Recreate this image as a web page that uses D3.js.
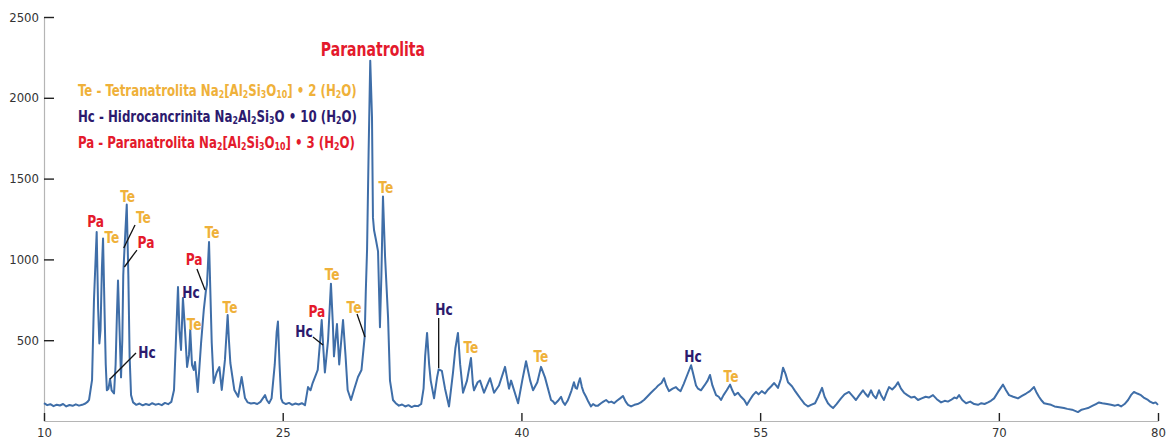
<!DOCTYPE html>
<html>
<head>
<meta charset="utf-8">
<script src="https://cdn.jsdelivr.net/npm/d3@7"></script>
<style>
  body { margin: 0; background: #fff; }
  svg { display: block; }
  text { font-family: 'DejaVu Sans Condensed', sans-serif; }
</style>
</head>
<body>
<svg id="xrd" width="1173" height="445"></svg>
<script>
// XRD scan, [2theta, counts]
const pattern = [
  [10.0,110],[10.2,98],[10.4,104],[10.6,92],[10.8,101],[11.0,96],[11.2,105],[11.4,90],[11.6,99],[11.8,94],
  [12.0,103],[12.2,95],[12.4,100],[12.6,108],[12.75,120],[12.83,130],[13.02,254],[13.14,749],[13.31,1170],
  [13.40,700],[13.48,480],[13.55,560],[13.64,950],[13.71,1130],[13.80,700],[13.88,350],[13.95,190],
  [14.05,200],[14.15,260],[14.25,190],[14.40,170],[14.50,350],[14.58,650],[14.65,870],[14.75,560],
  [14.84,270],[14.92,500],[14.98,900],[15.00,950],[15.06,1070],[15.20,1340],[15.30,900],[15.38,400],
  [15.47,160],[15.6,115],[15.8,100],[16.0,108],[16.2,97],[16.4,105],[16.6,99],[16.8,110],[17.0,101],
  [17.2,106],[17.4,98],[17.6,112],[17.8,104],[18.0,118],[18.17,192],[18.29,500],[18.42,829],[18.51,563],
  [18.61,440],[18.73,761],[18.86,563],[18.99,334],[19.11,409],[19.19,563],[19.30,347],[19.41,316],
  [19.49,365],[19.66,180],[19.87,483],[20.04,687],[20.18,811],[20.24,842],[20.37,1108],[20.54,483],
  [20.66,235],[20.85,300],[21.02,334],[21.17,192],[21.37,378],[21.54,656],[21.62,501],[21.71,359],
  [21.96,192],[22.2,150],[22.42,272],[22.63,142],[22.8,115],[23.0,108],[23.2,112],[23.4,105],[23.6,118],
  [23.89,160],[24.0,130],[24.14,110],[24.3,140],[24.5,350],[24.62,550],[24.70,615],[24.8,350],[24.9,140],
  [25.0,115],[25.2,105],[25.4,112],[25.6,100],[25.8,108],[26.0,102],[26.2,110],[26.4,98],[26.59,210],
  [26.75,190],[26.88,235],[27.10,290],[27.20,316],[27.34,483],[27.45,625],[27.55,450],[27.65,300],
  [27.85,500],[28.03,850],[28.15,600],[28.22,400],[28.41,600],[28.55,350],[28.79,625],[28.95,400],
  [29.08,192],[29.29,130],[29.5,200],[29.73,272],[29.95,316],[30.15,520],[30.22,800],[30.30,1060],
  [30.40,1680],[30.50,2230],[30.61,1880],[30.67,1260],[30.74,1180],[30.86,1120],[30.99,1050],[31.11,580],
  [31.20,900],[31.30,1390],[31.43,1020],[31.62,640],[31.74,250],[31.93,130],[32.1,110],[32.3,95],
  [32.5,102],[32.7,90],[32.9,98],[33.1,86],[33.3,95],[33.5,92],[33.7,105],[33.85,200],[33.95,400],
  [34.07,545],[34.2,350],[34.3,250],[34.51,140],[34.7,270],[34.8,320],[35.0,310],[35.2,200],[35.45,90],
  [35.7,300],[35.85,450],[36.01,545],[36.15,350],[36.33,175],[36.58,250],[36.83,390],[36.95,230],
  [37.02,190],[37.25,240],[37.40,250],[37.65,175],[38.03,265],[38.28,175],[38.59,220],[38.97,335],
  [39.22,200],[39.35,250],[39.79,110],[40.05,250],[40.29,370],[40.55,250],[40.73,190],[41.0,240],
  [41.23,335],[41.48,270],[41.86,130],[42.0,120],[42.1,105],[42.3,125],[42.49,150],[42.6,120],[42.74,100],
  [42.9,125],[43.0,150],[43.15,190],[43.30,240],[43.4,205],[43.49,200],[43.6,240],[43.68,265],[43.8,210],
  [43.9,180],[44.06,150],[44.2,120],[44.37,90],[44.5,105],[44.65,95],[44.81,95],[45.0,110],[45.15,120],
  [45.32,130],[45.5,115],[45.65,120],[45.82,110],[46.0,125],[46.2,140],[46.38,155],[46.55,120],[46.7,100],
  [46.89,90],[47.1,100],[47.3,105],[47.5,115],[47.70,130],[47.9,150],[48.14,175],[48.3,190],[48.46,205],
  [48.6,220],[48.8,235],[48.96,265],[49.1,220],[49.27,185],[49.5,200],[49.71,210],[49.85,195],[50.0,185],
  [50.2,230],[50.4,280],[50.66,345],[50.8,290],[50.97,220],[51.1,200],[51.28,190],[51.5,220],[51.7,250],
  [51.85,285],[52.0,220],[52.23,160],[52.4,150],[52.54,130],[52.7,160],[52.9,190],[53.11,225],[53.25,190],
  [53.4,160],[53.6,175],[53.8,150],[54.0,130],[54.17,100],[54.35,130],[54.55,160],[54.74,180],[54.9,165],
  [55.1,185],[55.3,170],[55.5,195],[55.7,215],[55.87,235],[56.0,220],[56.12,205],[56.3,260],[56.44,330],
  [56.6,290],[56.75,240],[57.0,215],[57.2,185],[57.38,160],[57.6,130],[57.8,105],[58.01,90],[58.2,100],
  [58.45,110],[58.65,150],[58.89,205],[59.05,150],[59.26,110],[59.4,95],[59.58,80],[59.8,105],[60.08,140],
  [60.3,165],[60.58,180],[60.8,155],[61.02,130],[61.2,155],[61.46,190],[61.6,170],[61.78,150],[61.97,190],
  [62.1,160],[62.28,140],[62.47,190],[62.6,160],[62.78,130],[62.95,175],[63.10,210],[63.3,195],[63.5,215],
  [63.66,240],[63.85,200],[64.04,175],[64.25,160],[64.5,145],[64.7,150],[64.92,130],[65.15,140],[65.4,150],
  [65.6,145],[65.86,160],[66.1,135],[66.37,115],[66.6,125],[66.8,120],[66.99,130],[67.2,145],[67.35,140],
  [67.50,160],[67.7,130],[67.94,110],[68.2,120],[68.45,105],[68.69,100],[68.9,110],[69.1,105],[69.32,115],
  [69.5,125],[69.70,140],[69.95,180],[70.26,225],[70.45,190],[70.64,160],[70.9,150],[71.20,140],[71.45,155],
  [71.71,170],[71.95,185],[72.21,210],[72.35,180],[72.52,150],[72.7,125],[72.84,110],[73.05,105],[73.28,100],
  [73.5,90],[73.8,85],[74.09,80],[74.3,75],[74.6,70],[74.97,55],[75.2,70],[75.4,75],[75.60,80],[75.9,95],
  [76.1,105],[76.29,115],[76.5,110],[76.8,105],[77.05,100],[77.3,95],[77.5,100],[77.68,90],[77.9,105],
  [78.12,130],[78.3,160],[78.49,180],[78.7,170],[78.93,160],[79.1,145],[79.37,130],[79.5,120],[79.69,110],
  [79.85,115],[80.0,100]
];

const xTicks = [10, 25, 40, 55, 70, 80];
const yTicks = [500, 1000, 1500, 2000, 2500];

const phaseColor = { Te: '#efb13a', Hc: '#2c1a6e', Pa: '#e41a2c' };

// legend rows: [text, subscript?]
const legendRows = [
  { phase: 'Te', parts: [['Te - Tetranatrolita Na', 0], ['2', 1], ['[Al', 0], ['2', 1], ['Si', 0], ['3', 1], ['O', 0], ['10', 1], ['] • 2 (H', 0], ['2', 1], ['O)', 0]] },
  { phase: 'Hc', parts: [['Hc - Hidrocancrinita Na', 0], ['2', 1], ['Al', 0], ['2', 1], ['Si', 0], ['3', 1], ['O • 10 (H', 0], ['2', 1], ['O)', 0]] },
  { phase: 'Pa', parts: [['Pa - Paranatrolita Na', 0], ['2', 1], ['[Al', 0], ['2', 1], ['Si', 0], ['3', 1], ['O', 0], ['10', 1], ['] • 3 (H', 0], ['2', 1], ['O)', 0]] }
];

// peak tags: label anchor (2theta, counts) and optional leader to the peak
const peakLabels = [
  { phase: 'Pa', at: [13.24, 1201] },
  { phase: 'Te', at: [14.27, 1102] },
  { phase: 'Te', at: [15.25, 1356] },
  { phase: 'Te', at: [16.25, 1226], from: [15.72, 1213], to: [15.01, 1071] },
  { phase: 'Pa', at: [16.41, 1071], from: [15.84, 1058], to: [15.05, 953] },
  { phase: 'Hc', at: [16.47, 390], from: [15.78, 421], to: [14.15, 260] },
  { phase: 'Hc', at: [19.24, 761] },
  { phase: 'Te', at: [19.43, 563] },
  { phase: 'Pa', at: [19.43, 966], from: [19.61, 941], to: [20.12, 811] },
  { phase: 'Te', at: [20.56, 1133] },
  { phase: 'Te', at: [21.69, 669] },
  { phase: 'Hc', at: [26.34, 520], from: [26.90, 520], to: [27.53, 470] },
  { phase: 'Pa', at: [27.15, 644] },
  { phase: 'Te', at: [28.10, 873] },
  { phase: 'Te', at: [29.48, 669], from: [29.67, 662], to: [30.17, 520] },
  { phase: 'Te', at: [31.49, 1411] },
  { phase: 'Hc', at: [35.13, 656], from: [34.80, 638], to: [34.80, 328] },
  { phase: 'Te', at: [36.83, 421] },
  { phase: 'Te', at: [41.23, 365] },
  { phase: 'Hc', at: [50.78, 365] },
  { phase: 'Te', at: [53.17, 241] }
];
const mainPeak = { text: 'Paranatrolita', at: [30.67, 2259] };

const svg = d3.select('#xrd');
const x = d3.scaleLinear().domain([10, 80]).range([44, 1158]);
const y = d3.scaleLinear().domain([0, 2500]).range([421, 17]);

// axes
const yAxis = svg.append('g')
    .attr('transform', `translate(${x(10)},0)`)
    .call(d3.axisLeft(y).tickValues(yTicks).tickFormat(d3.format('d'))
        .tickSize(-10).tickSizeOuter(0).tickPadding(5));
const xAxis = svg.append('g')
    .attr('transform', `translate(0,${y(0)})`)
    .call(d3.axisBottom(x).tickValues(xTicks).tickFormat(d3.format('d'))
        .tickSize(-8).tickSizeOuter(0).tickPadding(7));

[yAxis, xAxis].forEach(g => {
    g.select('.domain').attr('stroke', '#b5b5b5').attr('stroke-width', 1.2);
    g.selectAll('.tick line').attr('stroke', '#222').attr('stroke-width', 1.4);
    g.selectAll('.tick text')
        .attr('fill', '#333')
        .style('font-family', "'DejaVu Sans Condensed', sans-serif")
        .style('font-size', '13px');
});

// the scan
const line = d3.line()
    .x(d => x(d[0]))
    .y(d => y(d[1]));

svg.append('path')
    .datum(pattern)
    .attr('fill', 'none')
    .attr('stroke', '#3f6ea8')
    .attr('stroke-width', 2)
    .attr('stroke-linejoin', 'round')
    .attr('d', line);

// leaders
svg.append('g').selectAll('line')
    .data(peakLabels.filter(d => d.from))
    .enter()
    .append('line')
    .attr('x1', d => x(d.from[0]))
    .attr('y1', d => y(d.from[1]))
    .attr('x2', d => x(d.to[0]))
    .attr('y2', d => y(d.to[1]))
    .attr('stroke', '#111')
    .attr('stroke-width', 1.3);

// narrow the condensed font a bit more, the original uses a narrow face
svg.append('g').selectAll('text')
    .data(peakLabels)
    .enter()
    .append('text')
    .attr('transform', d => `translate(${x(d.at[0])},${y(d.at[1])}) scale(0.85,1)`)
    .attr('text-anchor', 'middle')
    .attr('fill', d => phaseColor[d.phase])
    .style('font-size', '16px')
    .style('font-weight', 'bold')
    .text(d => d.phase);

svg.append('text')
    .attr('transform', `translate(${x(mainPeak.at[0])},${y(mainPeak.at[1])}) scale(0.78,1)`)
    .attr('text-anchor', 'middle')
    .attr('fill', phaseColor.Pa)
    .style('font-size', '20px')
    .style('font-weight', 'bold')
    .text(mainPeak.text);

// legend
const legend = svg.append('g').attr('transform', 'translate(78,96) scale(0.875,1)');
legendRows.forEach((row, i) => {
    const t = legend.append('text')
        .attr('y', i * 26)
        .attr('fill', phaseColor[row.phase])
        .style('font-size', '15px')
        .style('font-weight', 'bold');
    let down = false;
    row.parts.forEach(([s, sub]) => {
        const span = t.append('tspan').text(s);
        if (sub && !down) { span.attr('dy', 2).style('font-size', '10px'); down = true; }
        else if (sub) { span.style('font-size', '10px'); }
        else if (down) { span.attr('dy', -2); down = false; }
    });
});
</script>
</body>
</html>
